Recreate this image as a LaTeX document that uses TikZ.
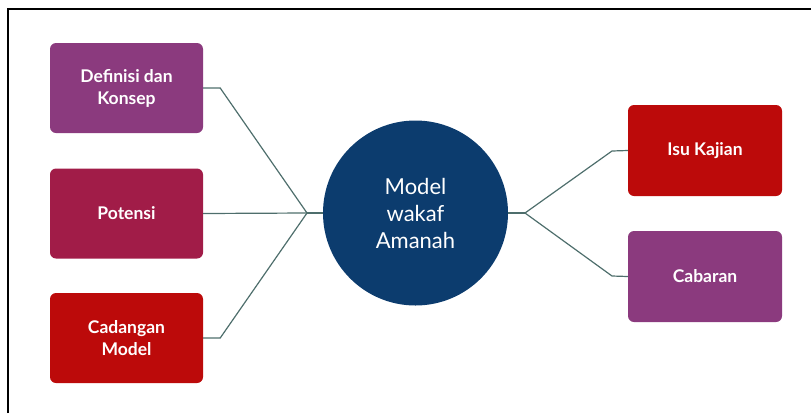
\documentclass[tikz,border=0pt]{standalone}
\usepackage{fontspec}
\setmainfont{Lato}
\definecolor{cpurple}{HTML}{8B3A7E}
\definecolor{cmaroon}{HTML}{A11C48}
\definecolor{cred}{HTML}{BC0A0A}
\definecolor{cnavy}{HTML}{0C3C6E}
\definecolor{cline}{HTML}{4E6E6C}
\begin{document}
\begin{tikzpicture}[x=1pt,y=-1pt,
  boxstyle/.style={rounded corners=6pt,minimum width=153pt,minimum height=90pt,text=white,font=\fontsize{17.5}{22}\selectfont\bfseries,align=center,inner sep=0pt},
  conn/.style={draw=cline,line width=1.2pt}]
\useasboundingbox (0,0) rectangle (811,413);
\draw[line width=2pt] (8,413) -- (8,9) -- (811,9);
\node[boxstyle,fill=cpurple] (def) at (126.5,88) {Definisi dan\\Konsep};
\node[boxstyle,fill=cmaroon] (pot) at (126.5,213.5) {Potensi};
\node[boxstyle,fill=cred] (cad) at (126.5,338) {Cadangan\\Model};
\node[boxstyle,fill=cred,minimum width=154pt,minimum height=91pt] (isu) at (705,150.5) {Isu Kajian};
\node[boxstyle,fill=cpurple,minimum width=154pt,minimum height=91pt] (cab) at (705,276.5) {Cabaran};
\node[circle,fill=cnavy,minimum size=185pt,inner sep=0pt,text=white,align=center,font=\fontsize{22}{27}\selectfont] (mod) at (415.5,213) {Model\\wakaf\\Amanah};
\coordinate (jl) at (307,213);
\coordinate (jr) at (525,213);
\draw[conn] (def.east) -- ++(17,0) -- (jl);
\draw[conn] (pot.east) -- (jl);
\draw[conn] (cad.east) -- ++(17,0) -- (jl);
\draw[conn] (jl) -- (mod.west);
\draw[conn] (mod.east) -- (jr);
\draw[conn] (jr) -- (612,151) -- (isu.west);
\draw[conn] (jr) -- (612,276) -- (cab.west);
\end{tikzpicture}
\end{document}
